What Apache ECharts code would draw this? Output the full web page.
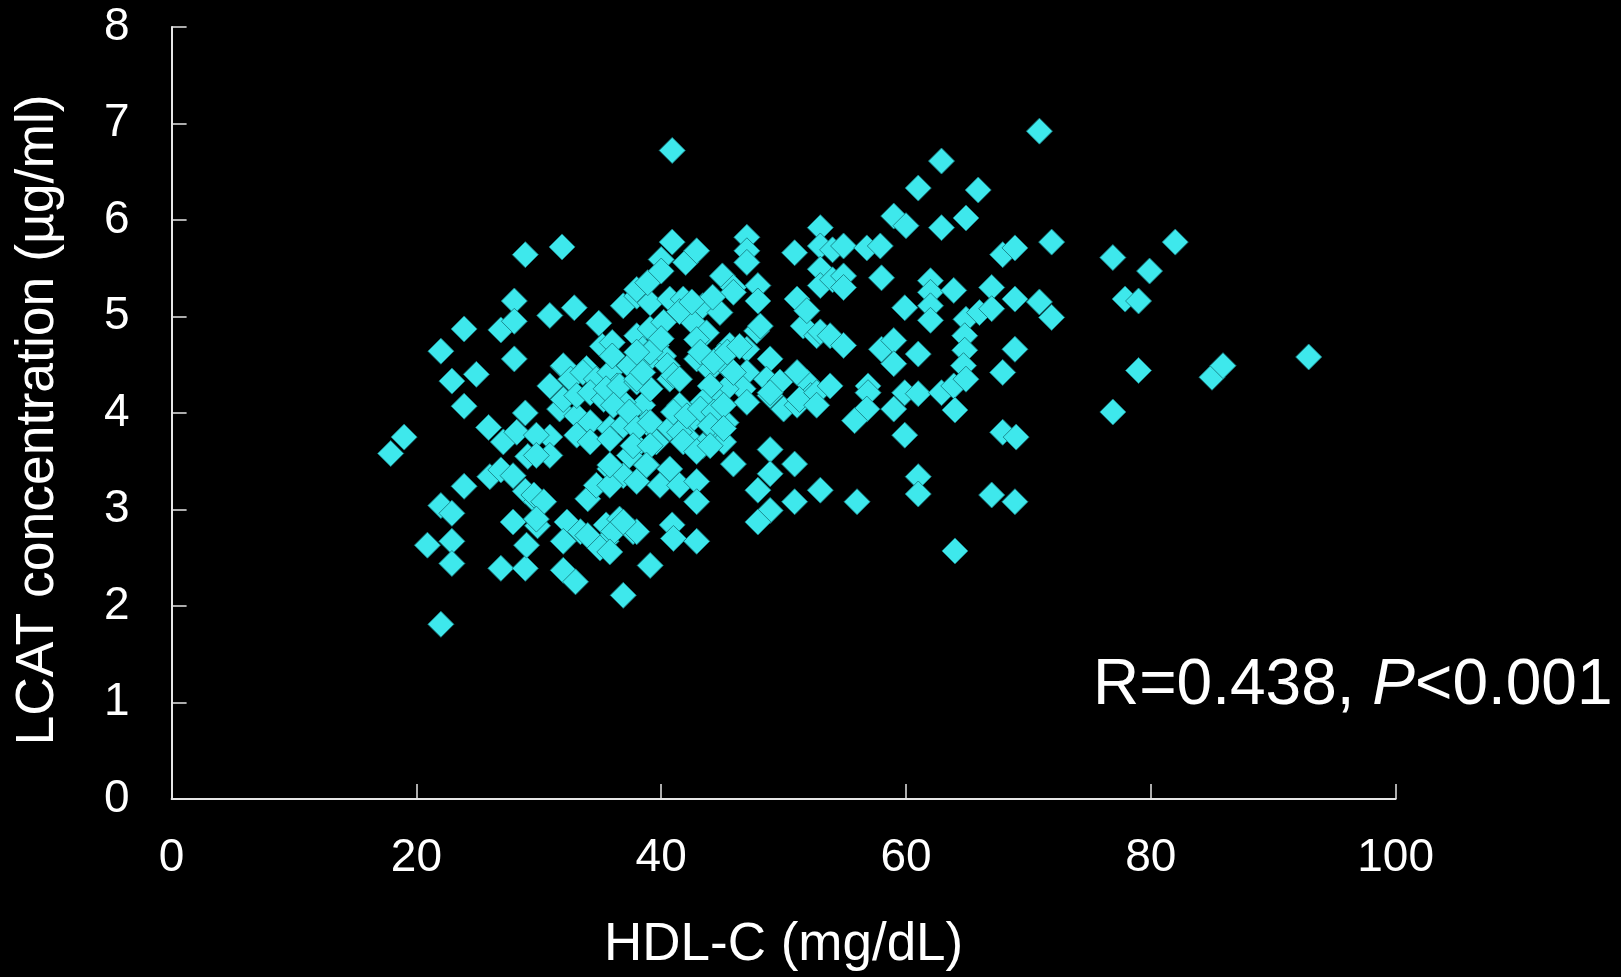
<!DOCTYPE html>
<html>
<head>
<meta charset="utf-8">
<script src="https://cdn.jsdelivr.net/npm/echarts@6/dist/echarts.min.js"></script>
<style>
html,body{margin:0;padding:0;background:#000;}
#c{width:1621px;height:977px;}
</style>
</head>
<body>
<div id="c"></div>
<script>
// HDL-C (mg/dL) values
const hdl = [
17.9,19.0,20.9,22.0,22.0,22.0,22.9,22.9,22.9,22.9,23.9,23.9,23.9,24.9,25.9,26.0,26.9,27.9,26.9,28.9,
27.9,29.9,29.0,28.9,29.8,27.1,28.2,28.9,29.1,30.9,30.9,26.9,28.0,28.0,28.0,28.9,31.9,30.9,32.9,34.9,
32.0,33.9,35.2,29.8,29.8,29.6,30.4,29.8,32.3,33.4,32.0,35.5,36.6,37.7,35.5,32.0,33.0,34.0,35.0,34.0,
34.7,35.8,36.9,38.0,39.9,35.8,38.8,36.1,38.0,36.9,35.8,39.1,36.9,40.9,41.0,42.9,
31.7,33.1,34.2,33.1,34.2,35.8,36.9,38.5,38.8,39.6,38.0,37.4,32.0,30.9,32.6,33.6,34.7,35.8,36.4,32.0,
33.1,34.2,35.3,36.9,35.5,36.6,38.0,39.1,36.1,37.4,38.0,39.1,35.8,37.7,39.1,35.8,38.8,40.7,40.7,
36.0,36.0,38.0,39.1,40.2,38.5,39.6,40.2,38.8,37.4,38.0,40.7,36.9,38.0,39.1,40.7,38.0,38.9,39.1,38.0,
38.5,40.5,41.0,40.0,
40.9,40.9,40.0,40.0,42.0,42.9,47.0,47.0,47.0,45.0,45.9,47.9,47.9,45.9,41.8,43.4,44.8,42.6,43.7,42.9,
41.5,44.2,42.5,
45.6,47.0,44.8,42.9,44.0,45.6,47.0,46.7,47.0,45.3,44.0,44.8,43.4,41.5,41.5,42.3,44.0,45.3,44.5,42.3,
43.4,45.1,41.5,43.2,44.3,45.4,46.4,45.9,41.0,42.1,43.2,44.3,45.1,44.0,45.1,41.8,42.9,44.0,41.5,42.9,
42.9,45.9,47.8,48.9,48.6,49.7,48.9,50.0,51.9,52.2,51.1,51.1,48.9,51.3,52.7,52.7,53.8,
48.9,48.9,47.9,48.9,47.9,50.9,50.9,53.0,
51.1,51.6,52.7,50.9,53.0,53.0,53.0,53.0,54.0,54.0,51.9,53.0,53.8,48.1,
54.9,56.8,57.9,54.9,54.9,58.0,54.9,58.0,59.0,59.0,61.0,56.9,56.9,56.8,55.8,59.0,59.9,61.0,59.9,59.0,
60.0,61.0,59.9,61.0,61.0,56.0,
62.9,65.9,62.9,64.9,62.0,62.0,62.0,62.0,63.9,67.0,68.9,70.9,71.9,64.9,66.0,67.0,64.8,64.8,64.7,68.9,
67.9,62.9,63.9,64.0,64.9,67.9,69.0,67.0,68.9,64.0,67.9,68.9,71.9,70.9,
82.0,76.9,79.9,77.9,79.0,79.0,85.0,85.9,92.9,76.9
];
// LCAT concentration (µg/ml) values
const lcat = [
3.58,3.75,2.63,1.81,4.64,3.04,2.96,4.33,2.67,2.44,4.87,4.07,3.24,4.40,3.85,3.34,3.41,3.35,2.39,2.39,
2.87,2.83,2.63,3.19,3.08,3.70,3.80,4.00,3.55,3.75,3.56,4.86,5.16,4.95,4.56,5.64,5.72,5.01,5.09,4.93,
4.48,4.46,4.69,3.77,3.56,3.15,3.08,2.90,2.87,2.77,2.67,2.84,2.90,2.77,2.67,2.37,2.25,2.73,2.60,3.11,
3.25,3.42,3.35,3.29,3.25,3.25,3.46,2.77,2.77,2.87,2.56,2.42,2.11,2.84,2.70,2.67,
4.04,3.97,3.90,3.77,3.70,3.84,3.87,4.08,3.90,3.70,3.66,3.56,4.49,4.28,4.35,4.42,4.35,4.42,4.28,4.14,
4.18,4.21,4.14,4.11,4.25,4.28,4.32,4.25,4.08,4.01,3.84,3.90,3.73,3.66,3.66,3.46,3.46,3.84,3.42,
4.73,4.59,4.80,4.87,4.94,4.66,4.70,4.59,4.53,4.49,4.35,4.35,5.11,5.21,5.14,5.18,5.28,5.35,4.63,4.63,
4.42,4.49,4.39,4.77,
6.72,5.77,5.59,5.47,5.56,5.68,5.82,5.68,5.56,5.42,5.30,5.32,5.16,5.25,5.18,5.11,5.04,4.94,4.83,4.76,
5.05,5.20,5.15,
4.70,4.66,4.59,4.56,4.45,4.45,4.42,4.25,4.11,4.25,4.28,4.11,4.11,4.35,4.08,3.90,3.97,3.90,3.80,3.73,
3.66,3.70,3.80,4.63,4.53,4.63,4.69,4.42,4.01,3.97,4.04,4.01,4.08,3.87,3.84,3.70,3.60,3.66,3.25,3.29,
3.08,3.47,4.85,4.56,4.35,4.32,4.18,4.04,4.32,4.18,4.08,4.42,4.21,4.14,4.21,4.08,4.28,
3.62,3.37,3.20,2.99,2.87,3.47,3.08,3.20,
5.18,4.90,4.80,5.66,5.92,5.73,5.49,5.32,5.69,5.38,5.06,4.84,4.80,4.90,
5.73,5.71,5.73,5.42,5.30,5.40,4.70,4.66,4.75,4.51,4.61,4.28,4.21,4.04,3.92,4.04,4.21,4.20,3.77,6.04,
5.94,6.33,5.09,3.34,3.16,3.08,
6.61,6.31,5.92,6.02,5.37,5.25,5.11,4.96,5.27,5.30,5.18,5.15,4.99,4.97,5.04,5.08,4.80,4.65,4.49,4.66,
4.42,4.21,4.28,4.03,4.35,3.80,3.75,3.15,3.08,2.57,5.64,5.71,5.77,6.92,
5.77,5.61,5.47,5.18,5.16,4.44,4.37,4.49,4.58,4.01
];
const xTicks = [0, 20, 40, 60, 80, 100];
const yTicks = [0, 1, 2, 3, 4, 5, 6, 7, 8];
const xName = 'HDL-C (mg/dL)';
const yName = 'LCAT concentration (µg/ml)';
const statText = 'R=0.438, {i|P}<0.001';

const FONT = '"Liberation Sans", Arial, sans-serif';
const points = hdl.map((v, i) => [v, lcat[i]]);

const chart = echarts.init(document.getElementById('c'), null, {renderer: 'canvas'});
chart.setOption({
  backgroundColor: '#000000',
  animation: false,
  grid: {left: 171.6, right: 225.4, top: 26.9, bottom: 175.8, containLabel: false},
  xAxis: {
    type: 'value',
    min: xTicks[0], max: xTicks[xTicks.length - 1], interval: 20,
    name: xName, nameLocation: 'middle', nameGap: 120,
    nameTextStyle: {color: '#ffffff', fontSize: 53, fontFamily: FONT},
    axisLine: {show: true, lineStyle: {color: '#e6e6e6', width: 2}},
    axisTick: {show: true, inside: true, length: 15, lineStyle: {color: '#e6e6e6', width: 1.5}},
    axisLabel: {color: '#ffffff', fontSize: 46, fontFamily: FONT, margin: 36},
    splitLine: {show: false}
  },
  yAxis: {
    type: 'value',
    min: yTicks[0], max: yTicks[yTicks.length - 1], interval: 1,
    name: yName, nameLocation: 'middle', nameGap: 106, nameRotate: 90,
    nameTextStyle: {color: '#ffffff', fontSize: 53.5, fontFamily: FONT, padding: [0, 14, 0, 0]},
    axisLine: {show: true, lineStyle: {color: '#e6e6e6', width: 2}},
    axisTick: {show: true, inside: true, length: 15, lineStyle: {color: '#e6e6e6', width: 1.5}},
    axisLabel: {color: '#ffffff', fontSize: 46, fontFamily: FONT, margin: 42},
    splitLine: {show: false}
  },
  series: [{
    type: 'scatter',
    data: points,
    symbol: 'diamond',
    symbolSize: 26,
    itemStyle: {color: '#3EE8EC', borderColor: 'rgba(25,130,135,0.9)', borderWidth: 1, opacity: 1}
  }],
  graphic: [{
    type: 'text',
    left: 1093,
    top: 654,
    style: {
      text: statText,
      fill: '#ffffff',
      fontSize: 64,
      fontFamily: FONT,
      rich: {
        i: {fontStyle: 'italic', fontSize: 64, fontFamily: FONT, fill: '#ffffff'}
      }
    }
  }]
});
</script>
</body>
</html>
